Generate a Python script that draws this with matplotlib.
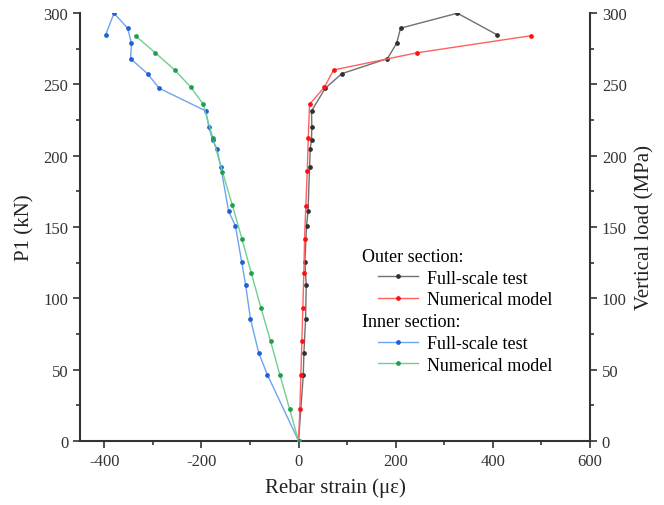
import matplotlib
matplotlib.use('Agg')
import matplotlib.pyplot as plt
from matplotlib.lines import Line2D
from matplotlib.ticker import MultipleLocator

plt.rcParams['font.family'] = ['Liberation Serif', 'DejaVu Serif']
plt.rcParams['axes.unicode_minus'] = False

# outer section, full-scale test
outer_test_x = [0, 9.7, 11, 14.4, 15.8, 13, 16.4, 19.5, 22.6, 24, 26.7, 27.3, 26.7, 55, 89, 183, 202, 210, 327, 408]
outer_test_y = [0, 46.3, 61.7, 85.5, 109.3, 125.3, 150.7, 161, 191.8, 204.7, 211, 220.3, 231.3, 247.2, 257.4, 268, 278.8, 289.3, 299.8, 284.8]

# outer section, numerical model
outer_num_x = [0, 2.7, 4.7, 6.8, 8.8, 10.9, 12.3, 15, 17.9, 20, 22.6, 53.4, 72, 243, 478]
outer_num_y = [0, 22.4, 46.3, 70, 93.4, 117.5, 141.6, 165, 189, 212.6, 236, 248, 260, 272, 284]

# inner section, full-scale test
inner_test_x = [0, -64, -82, -99, -109, -117, -130, -144, -160, -168, -177, -185, -191, -287, -311, -346, -344, -352, -380, -397]
inner_test_y = [0, 46.3, 61.7, 85.5, 109.3, 125.3, 150.7, 161, 191.8, 204.7, 211, 220.3, 231.3, 247.2, 257.4, 268, 278.8, 289.3, 299.8, 284.8]

# inner section, numerical model
inner_num_x = [0, -18.5, -38.4, -57.6, -77.5, -97.2, -116.5, -136.3, -156.8, -176.8, -196.7, -222, -255, -295.4, -335.7]
inner_num_y = [0, 22.4, 46.3, 69.9, 93.4, 117.5, 141.6, 165.2, 188.8, 212.6, 236.2, 248, 260, 272.2, 283.9]

series = [
    (outer_test_x, outer_test_y, '#707070', '#303030'),
    (outer_num_x, outer_num_y, '#ff6060', '#ff1010'),
    (inner_test_x, inner_test_y, '#6fa3f0', '#1c5fd6'),
    (inner_num_x, inner_num_y, '#6fcf90', '#1f9e4c'),
]

fig = plt.figure(figsize=(6.64, 5.06), dpi=100)
ax = fig.add_axes([0.1205, 0.1265, 0.768, 0.846])

for x, y, lc, mc in series:
    ax.plot(x, y, color=lc, lw=1.0, marker='o', ms=2.4, mfc=mc, mec=mc, zorder=3)

spine_col = '#333333'
ax.set_xlim(-450, 600)
ax.set_ylim(0, 300)
ax.xaxis.set_major_locator(MultipleLocator(200))
ax.xaxis.set_minor_locator(MultipleLocator(100))
ax.yaxis.set_major_locator(MultipleLocator(50))
ax.yaxis.set_minor_locator(MultipleLocator(25))
ax.spines['top'].set_visible(False)
ax.spines['right'].set_visible(False)
for s in ['left', 'bottom']:
    ax.spines[s].set_linewidth(1.5)
    ax.spines[s].set_color(spine_col)
ax.tick_params(which='both', direction='out', colors=spine_col, labelsize=12, width=1.2)
ax.tick_params(which='major', length=5)
ax.tick_params(which='minor', length=3)
ax.set_xlabel('Rebar strain (\u03bc\u03b5)', fontsize=15, color='#222222', labelpad=6)
ax.set_ylabel('P1 (kN)', fontsize=15, color='#222222', labelpad=6)

ax2 = ax.twinx()
ax2.set_ylim(0, 300)
ax2.yaxis.set_major_locator(MultipleLocator(50))
ax2.yaxis.set_minor_locator(MultipleLocator(25))
for s in ['top', 'left', 'bottom']:
    ax2.spines[s].set_visible(False)
ax2.spines['right'].set_linewidth(1.5)
ax2.spines['right'].set_color(spine_col)
ax2.tick_params(which='both', direction='out', colors=spine_col, labelsize=12, width=1.2)
ax2.tick_params(which='major', length=5)
ax2.tick_params(which='minor', length=3)
ax2.set_ylabel('Vertical load (MPa)', fontsize=15, color='#222222', labelpad=6)

def handle(lc, mc):
    return Line2D([], [], color=lc, lw=1.0, marker='o', ms=2.4, mfc=mc, mec=mc)

leg_kw = dict(loc='upper left', frameon=False, fontsize=13, handlelength=2.2,
              handletextpad=0.5, labelspacing=0.25, borderpad=0, borderaxespad=0)

ax.text(0.552, 0.432, 'Outer section:', transform=ax.transAxes, fontsize=13, va='center')
leg1 = ax.legend([handle(*series[0][2:]), handle(*series[1][2:])],
                 ['Full-scale test', 'Numerical model'],
                 bbox_to_anchor=(0.585, 0.400), **leg_kw)
ax.add_artist(leg1)
ax.text(0.552, 0.280, 'Inner section:', transform=ax.transAxes, fontsize=13, va='center')
ax.legend([handle(*series[2][2:]), handle(*series[3][2:])],
          ['Full-scale test', 'Numerical model'],
          bbox_to_anchor=(0.585, 0.247), **leg_kw)

fig.savefig('out.png', dpi=100)
